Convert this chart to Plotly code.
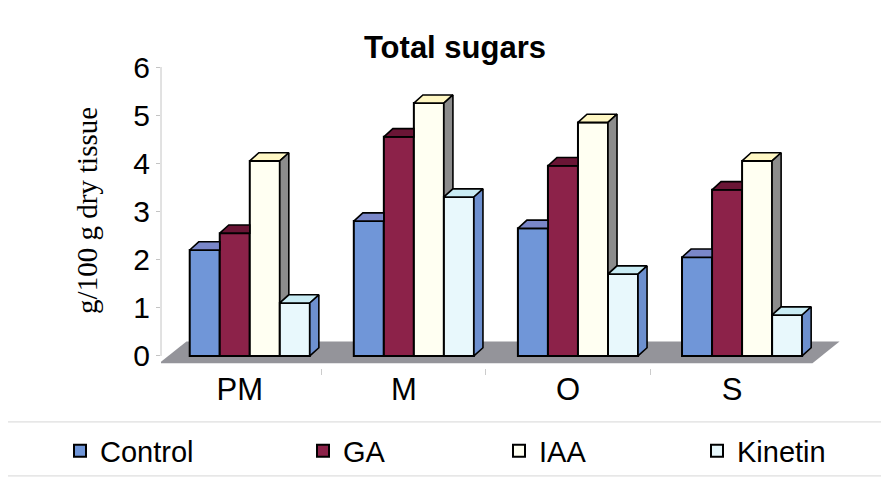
import plotly.graph_objects as go

# ---------------- data ----------------
categories = ["PM", "M", "O", "S"]
series_names = ["Control", "GA", "IAA", "Kinetin"]
control = [2.2, 2.8, 2.65, 2.05]
ga = [2.55, 4.55, 3.95, 3.45]
iaa = [4.05, 5.25, 4.85, 4.05]
kinetin = [1.1, 3.3, 1.7, 0.85]
y_ticks = [0, 1, 2, 3, 4, 5, 6]

# ---------------- style ----------------
front_colors = ["#7096d8", "#8c2249", "#fffff2", "#e8f8fc"]
top_colors = ["#7a87c9", "#6a1535", "#fff7c4", "#c9ecf4"]
side_colors = ["#5f7fc0", "#6a1535", "#8c8c8c", "#6d90cf"]
SANS = "Liberation Sans, Arial, sans-serif"
SERIF = "Liberation Serif, Times New Roman, serif"

W = 0.183      # bar width (category units)
OFF0 = -0.305  # offset of first bar from category centre
DX = 0.055     # 3-D depth, x (category units)
DY = 0.17      # 3-D depth, y (value units)

# layout geometry: page has an 8px body margin, so the figure is 8px smaller
PAD = 8
FW, FH = 889 - PAD, 483 - PAD
Y_RANGE = [-0.25, 6]
X_RANGE = [-0.48, 3.67]
PX_PER_UNIT = 48.17
L = 161 - PAD
T = 67 - PAD
R = FW - (L + (X_RANGE[1] - X_RANGE[0]) * 164)
H = (Y_RANGE[1] - Y_RANGE[0]) * PX_PER_UNIT
B = FH - T - H
legend_ref_px = [60, 303, 499, 697]   # left edge of each legend entry


def paper_y(ref_px):
    return (FH - B - (ref_px - PAD)) / H


def paper_x(ref_px):
    return ((ref_px - PAD) - L) / (FW - L - R)


fig = go.Figure()
all_vals = [control, ga, iaa, kinetin]
xs = list(range(len(categories)))
legend_ids = ["legend", "legend2", "legend3", "legend4"]

# front faces (real bars)
for k, vals in enumerate(all_vals):
    fig.add_trace(go.Bar(
        x=xs, y=vals, width=W, offset=OFF0 + k * W,
        name=series_names[k], legend=legend_ids[k],
        marker=dict(color=front_colors[k], line=dict(color="black", width=2)),
    ))

# top and side faces derived from the same values
for k, vals in enumerate(all_vals):
    tx, ty, sx, sy = [], [], [], []
    for i, v in enumerate(vals):
        xl = i + OFF0 + k * W
        xr = xl + W
        nxt = all_vals[k + 1][i] if k + 1 < len(all_vals) else None
        if nxt is not None and nxt > v:
            tx += [xl, xr, xr, xl + DX, xl, None]
            ty += [v, v, v + DY, v + DY, v, None]
        else:
            tx += [xl, xr, xr + DX, xl + DX, xl, None]
            ty += [v, v, v + DY, v + DY, v, None]
        if nxt is None:
            sx += [xr, xr, xr + DX, xr + DX, xr, None]
            sy += [0, v, v + DY, DY, 0, None]
        elif nxt < v:
            sx += [xr, xr, xr + DX, xr + DX, xr, None]
            sy += [nxt, v, v + DY, nxt + DY, nxt, None]
    fig.add_trace(go.Scatter(x=tx, y=ty, mode="lines", fill="toself",
                             fillcolor=top_colors[k],
                             line=dict(color="black", width=1.6),
                             showlegend=False, hoverinfo="skip"))
    if sx:
        fig.add_trace(go.Scatter(x=sx, y=sy, mode="lines", fill="toself",
                                 fillcolor=side_colors[k],
                                 line=dict(color="black", width=1.6),
                                 showlegend=False, hoverinfo="skip"))

# floor of the 3-D chart
floor_front, floor_back, floor_dx = -0.15, 0.3, 0.165
fx0, fx1 = -0.49, 3.49
floor_path = (f"M {fx0},{floor_front} L {fx1},{floor_front} "
              f"L {fx1 + floor_dx},{floor_back} L {fx0 + floor_dx},{floor_back} Z")

shapes = [
    dict(type="path", path=floor_path, xref="x", yref="y",
         fillcolor="#94949a", line=dict(width=0), layer="below"),
    dict(type="line", xref="paper", yref="y", x0=0, x1=0, y0=0, y1=6,
         line=dict(color="#c4c4c4", width=1)),
    dict(type="line", xref="paper", yref="paper",
         x0=paper_x(0), x1=paper_x(889), y0=paper_y(422), y1=paper_y(422),
         line=dict(color="#d6d6d6", width=1)),
    dict(type="line", xref="paper", yref="paper",
         x0=paper_x(0), x1=paper_x(889), y0=paper_y(476), y1=paper_y(476),
         line=dict(color="#d6d6d6", width=1)),
]

annotations = [
    dict(text="g/100 g dry tissue", textangle=-90, showarrow=False,
         xref="paper", yref="paper", x=paper_x(87), y=paper_y(210),
         xanchor="center", yanchor="middle",
         font=dict(family=SERIF, size=29, color="black")),
]

legend_common = dict(orientation="h", xref="container", yref="container",
                     xanchor="left", y=1 - (451 - PAD) / FH, yanchor="middle",
                     font=dict(family=SANS, size=29, color="black"),
                     bgcolor="rgba(0,0,0,0)")

fig.update_layout(
    width=FW, height=FH,
    margin=dict(l=L, r=R, t=T, b=B, autoexpand=False),
    paper_bgcolor="white", plot_bgcolor="white",
    barmode="overlay",
    shapes=shapes,
    annotations=annotations,
    title=dict(text="<b>Total sugars</b>", x=(455 - PAD) / FW, xref="container",
               xanchor="center", y=1 - (47 - PAD) / FH, yref="container",
               yanchor="middle", font=dict(family=SANS, size=31, color="black")),
    xaxis=dict(range=X_RANGE, tickvals=xs, ticktext=categories,
               showgrid=False, zeroline=False, showline=False, ticks="",
               tickfont=dict(family=SANS, size=31, color="black"),
               ticklabelstandoff=0,
               minor=dict(tickvals=[0.5, 1.5, 2.5], ticks="outside",
                          ticklen=6, tickcolor="#cccccc", showgrid=False)),
    yaxis=dict(range=Y_RANGE, tickvals=y_ticks,
               showgrid=False, zeroline=False, showline=False,
               ticks="outside", ticklen=4, tickcolor="#c4c4c4",
               tickfont=dict(family=SANS, size=30, color="black"),
               ticklabelstandoff=0),
)
for k, lid in enumerate(legend_ids):
    fig.update_layout({lid: dict(legend_common, x=(legend_ref_px[k] - PAD) / FW)})

fig.write_html("out.html")
